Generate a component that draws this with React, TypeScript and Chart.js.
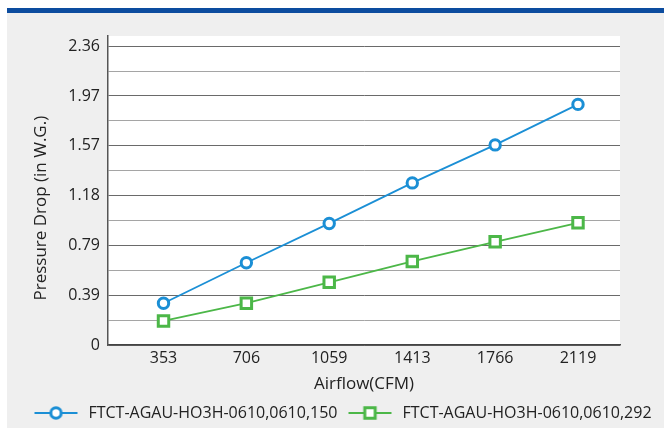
import React, { useEffect, useRef } from 'react';
import { Chart, registerables } from 'chart.js';

Chart.register(...registerables);

const categories = [353, 706, 1059, 1413, 1766, 2119];
const series150 = [0.33, 0.65, 0.96, 1.28, 1.58, 1.9];
const series292 = [0.19, 0.33, 0.495, 0.66, 0.815, 0.965];
const seriesNames = ['FTCT-AGAU-HO3H-0610,0610,150', 'FTCT-AGAU-HO3H-0610,0610,292'];
const yGridValues = [0, 0.1967, 0.3933, 0.59, 0.7867, 0.9833, 1.18, 1.3767, 1.5733, 1.77, 1.9667, 2.1633, 2.36];
const yTickLabels = ['0', '0.39', '0.79', '1.18', '1.57', '1.97', '2.36'];

const BLUE = '#1b8fd5';
const GREEN = '#4cb748';
const TEXT = '#222222';
const FONT = 'Open Sans';

function makeIcon(color: string, style: 'circle' | 'rect'): HTMLCanvasElement {
  const c = document.createElement('canvas');
  c.width = 49;
  c.height = 18;
  const ctx = c.getContext('2d')!;
  ctx.strokeStyle = color;
  ctx.lineWidth = 2;
  ctx.beginPath();
  ctx.moveTo(3, 9);
  ctx.lineTo(46, 9);
  ctx.stroke();
  ctx.lineWidth = 3;
  ctx.fillStyle = '#ffffff';
  ctx.beginPath();
  if (style === 'circle') {
    ctx.arc(24.5, 9, 5.2, 0, Math.PI * 2);
  } else {
    ctx.rect(24.5 - 5.2, 9 - 5.2, 10.4, 10.4);
  }
  ctx.fill();
  ctx.stroke();
  return c;
}

export default function App() {
  const ref = useRef<HTMLCanvasElement | null>(null);

  useEffect(() => {
    if (!ref.current) return;
    const icons = [makeIcon(BLUE, 'circle'), makeIcon(GREEN, 'rect')];
    const chart = new Chart(ref.current, {
      type: 'line',
      data: {
        datasets: [
          {
            label: seriesNames[0],
            data: categories.map((x, i) => ({ x, y: series150[i] })),
            borderColor: BLUE,
            backgroundColor: '#ffffff',
            borderWidth: 1.8,
            pointStyle: 'circle',
            pointRadius: 5.2,
            pointBorderWidth: 3,
            pointBackgroundColor: '#ffffff',
            pointBorderColor: BLUE,
            tension: 0,
          },
          {
            label: seriesNames[1],
            data: categories.map((x, i) => ({ x, y: series292[i] })),
            borderColor: GREEN,
            backgroundColor: '#ffffff',
            borderWidth: 1.8,
            pointStyle: 'rect',
            pointRadius: 7.4,
            pointBorderWidth: 3,
            pointBackgroundColor: '#ffffff',
            pointBorderColor: GREEN,
            tension: 0,
          },
        ],
      },
      options: {
        responsive: false,
        animation: false,
        events: [],
        layout: { padding: { left: 12, right: 0, top: 23, bottom: -3 } },
        plugins: {
          tooltip: { enabled: false },
          legend: {
            display: true,
            position: 'bottom',
            labels: {
              usePointStyle: true,
              pointStyleWidth: 49,
              padding: 8,
              color: TEXT,
              font: { family: FONT, size: 16 },
              generateLabels: (ch: any) =>
                ch.data.datasets.map((ds: any, i: number) => ({
                  text: ds.label,
                  pointStyle: icons[i],
                  fillStyle: 'transparent',
                  strokeStyle: 'transparent',
                  lineWidth: 0,
                  hidden: false,
                  datasetIndex: i,
                  fontColor: TEXT,
                })),
            },
          },
        },
        scales: {
          x: {
            type: 'linear',
            min: 116.5,
            max: 2298,
            afterBuildTicks: (s: any) => {
              s.ticks = categories.map((v) => ({ value: v }));
            },
            afterFit: (s: any) => {
              s.height = 52;
            },
            grid: { display: false, drawTicks: false },
            border: { display: true, color: '#444444', width: 1.5 },
            ticks: {
              padding: 4,
              color: TEXT,
              font: { family: FONT, size: 16 },
              callback: (v: any) => String(v),
            },
            title: {
              display: true,
              text: 'Airflow(CFM)',
              color: TEXT,
              font: { family: FONT, size: 17 },
              padding: { top: 0, bottom: 3 },
            },
          },
          y: {
            type: 'linear',
            min: 0,
            max: 2.44,
            afterBuildTicks: (s: any) => {
              s.ticks = yGridValues.map((v) => ({ value: v }));
            },
            afterFit: (s: any) => {
              s.width = 89;
            },
            grid: {
              drawTicks: false,
              color: (c: any) => (c.index % 2 === 0 ? '#6a6a6a' : '#a5a5a5'),
              lineWidth: 1,
            },
            border: { display: true, color: '#555555', width: 1.5 },
            ticks: {
              padding: 8,
              color: TEXT,
              font: { family: FONT, size: 16 },
              callback: (_v: any, i: number) => (i % 2 === 0 ? yTickLabels[i / 2] : ''),
            },
            title: {
              display: true,
              text: 'Pressure Drop (in W.G.)        ',
              color: TEXT,
              font: { family: FONT, size: 17 },
              padding: { top: 12, bottom: 0 },
            },
          },
          yRight: {
            type: 'linear',
            position: 'right',
            display: true,
            grid: { display: false, drawOnChartArea: false, drawTicks: false },
            border: { display: false },
            ticks: { display: false },
            afterFit: (s: any) => {
              s.width = 44;
            },
          },
        },
      },
      plugins: [
        {
          id: 'plotBg',
          beforeDraw: (ch: any) => {
            const { ctx, chartArea } = ch;
            ctx.save();
            ctx.fillStyle = '#ffffff';
            ctx.fillRect(chartArea.left, chartArea.top, chartArea.right - chartArea.left, chartArea.bottom - chartArea.top);
            ctx.restore();
          },
        },
      ],
    } as any);
    return () => chart.destroy();
  }, []);

  return (
    <div style={{ position: 'absolute', left: 7, top: 8, width: 657, height: 420 }}>
      <div style={{ height: 5, background: '#0c4c9f' }} />
      <div style={{ height: 415, background: '#efefef' }}>
        <canvas ref={ref} width={657} height={415} style={{ display: 'block' }} />
      </div>
    </div>
  );
}
